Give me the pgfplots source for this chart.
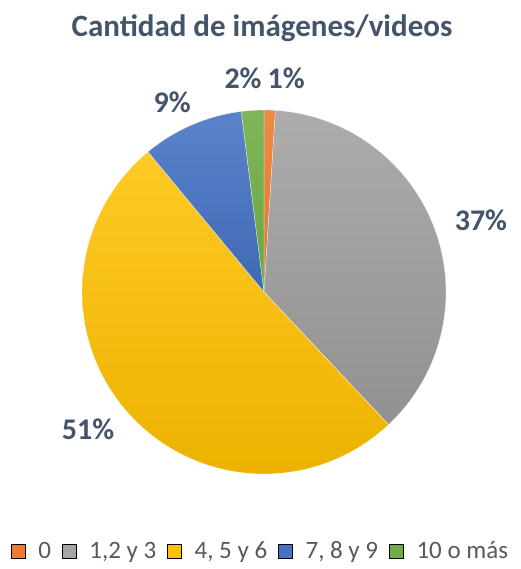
\documentclass[border=0pt]{standalone}
\usepackage{fontspec}
\setmainfont{Carlito}
\usepackage{pgfplots}
\pgfplotsset{compat=1.18}

\definecolor{titlec}{HTML}{44546A}
\definecolor{legc}{HTML}{595959}
\definecolor{c0}{HTML}{ED7D31}
\definecolor{c1}{HTML}{A5A5A5}
\definecolor{c2}{HTML}{FFC000}
\definecolor{c3}{HTML}{4472C4}
\definecolor{c4}{HTML}{70AD47}

% percentages, clockwise from 12 o'clock: 0 / 1,2 y 3 / 4, 5 y 6 / 7, 8 y 9 / 10 o mas
% 1, 37, 51, 9, 2  -> 3.6 degrees per percent

\begin{document}
\begin{tikzpicture}
\useasboundingbox (0,0) rectangle (520pt,569pt);
\node[font=\fontsize{31}{36}\selectfont\bfseries, text=titlec] at (262pt,541pt) {Cantidad de imágenes/videos};
\begin{axis}[
  at={(264pt,277pt)}, anchor=center,
  scale only axis, width=364pt, height=364pt,
  xmin=-1, xmax=1, ymin=-1, ymax=1,
  hide axis, clip=false,
  legend columns=5,
  legend style={at={(0.489,-0.212)}, anchor=center, draw=none,
    nodes={font=\fontsize{25}{28}\selectfont, text=legc, inner sep=1pt},
    /tikz/every even column/.append style={column sep=10pt}},
  legend image code/.code={\fill[#1] (0pt,-7pt) rectangle (14pt,7pt); \path (26pt,0pt);},
]
\addplot[forget plot, draw=white, line width=0.2pt, top color=c0!90!white, bottom color=c0!95!black, domain=86.4:90, samples=5] ({cos(x)},{sin(x)}) -- (axis cs:0,0) -- cycle;
\addplot[forget plot, draw=white, line width=0.2pt, top color=c1!92!white, bottom color=c1!88!black, domain=-46.8:86.4, samples=70] ({cos(x)},{sin(x)}) -- (axis cs:0,0) -- cycle;
\addplot[forget plot, draw=white, line width=0.2pt, top color=c2!85!white, bottom color=c2!93!black, domain=-230.4:-46.8, samples=90] ({cos(x)},{sin(x)}) -- (axis cs:0,0) -- cycle;
\addplot[forget plot, draw=white, line width=0.2pt, top color=c3!88!white, bottom color=c3!92!black, domain=-262.8:-230.4, samples=20] ({cos(x)},{sin(x)}) -- (axis cs:0,0) -- cycle;
\addplot[forget plot, draw=white, line width=0.2pt, top color=c4!90!white, bottom color=c4!95!black, domain=-270:-262.8, samples=6] ({cos(x)},{sin(x)}) -- (axis cs:0,0) -- cycle;

\addlegendimage{fill=c0}\addlegendentry{0}
\addlegendimage{fill=c1}\addlegendentry{1,2 y 3}
\addlegendimage{fill=c2}\addlegendentry{4, 5 y 6}
\addlegendimage{fill=c3}\addlegendentry{7, 8 y 9}
\addlegendimage{fill=c4}\addlegendentry{10 o más}

\begin{scope}[every node/.style={font=\fontsize{30}{34}\selectfont\bfseries, text=titlec}]
\node at (axis cs:1.192,0.396) {37\%};
\node at (axis cs:-0.967,-0.753) {51\%};
\node at (axis cs:-0.505,1.044) {9\%};
\node at (axis cs:-0.115,1.176) {2\%};
\node at (axis cs:0.122,1.176) {1\%};
\end{scope}
\end{axis}
\end{tikzpicture}
\end{document}
